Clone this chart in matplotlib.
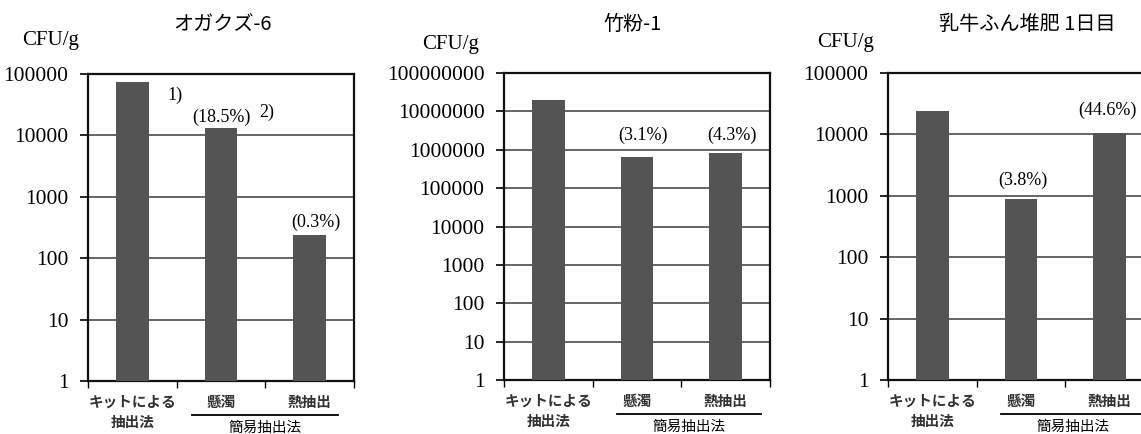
import matplotlib
matplotlib.use('Agg')
import matplotlib.pyplot as plt
from matplotlib.ticker import FuncFormatter, NullLocator, FixedLocator, LogLocator

# data
methods = ['キットによる\n抽出法', '懸濁', '熱抽出']
group_label = '簡易抽出法'
titles = ['オガクズ-6', '竹粉-1', '乳牛ふん堆肥 1日目']
unit = 'CFU/g'
counts = [
    [73000, 13300, 240],
    [19600000, 630000, 830000],
    [24000, 880, 10600],
]
ymax = [1e5, 1e8, 1e5]
pct_labels = [
    ['(18.5%)', '(0.3%)'],
    ['(3.1%)', '(4.3%)'],
    ['(3.8%)', '(44.6%)'],
]
note_labels = ['1)', '2)']

W, H = 1141, 434
fig = plt.figure(figsize=(W / 100, H / 100), dpi=100)

serif = ['Liberation Serif', 'Noto Sans CJK JP']
gothic = ['Noto Sans CJK JP', 'DejaVu Sans']

# layout (pixels)
ax_left = [88, 504, 888]
ax_top = [74, 73, 73]
ax_w, ax_h = 266, 307
title_xy = [(223, 25), (633, 25), (1027, 25)]
unit_xy = [(22, 40), (422, 45), (817, 43)]
# (x in data, y in axes fraction) for the percentage labels
pct_pos = [
    [(1.01, 0.860), (2.07, 0.518)],
    [(1.07, 0.798), (2.07, 0.798)],
    [(1.02, 0.651), (1.97, 0.879)],
]
note_pos = [(0.48, 0.932), (1.52, 0.876)]
underline = [(0.67, 2.32), (0.77, 2.40), (0.78, 2.40)]

bar_color = '#545454'

for i in range(3):
    x0 = ax_left[i] / W
    y0 = (H - ax_top[i] - ax_h) / H
    ax = fig.add_axes([x0, y0, ax_w / W, ax_h / H])
    ax.set_yscale('log')
    ax.set_ylim(1, ymax[i])
    ax.set_xlim(-0.5, 2.5)
    ax.set_axisbelow(True)
    ax.bar(range(3), counts[i], width=0.37, color=bar_color, zorder=3)

    ax.yaxis.set_major_locator(LogLocator(base=10, numticks=20))
    ax.yaxis.set_minor_locator(NullLocator())
    ax.yaxis.set_major_formatter(FuncFormatter(lambda v, p: f'{int(round(v))}'))
    ax.grid(axis='y', color='#3c3c3c', linewidth=1.1)
    ax.tick_params(axis='y', length=6, width=1.2, pad=8, labelsize=15.5)
    for t in ax.get_yticklabels():
        t.set_family(serif)

    ax.set_xticks(range(3))
    ax.set_xticklabels(methods, family=gothic, fontweight='bold', fontsize=10.5,
                       linespacing=1.35, color='#333333')
    ax.xaxis.set_minor_locator(FixedLocator([-0.5, 0.5, 1.5, 2.5]))
    ax.tick_params(axis='x', which='major', length=0, pad=9)
    ax.tick_params(axis='x', which='minor', length=5, width=1.0)

    for s in ax.spines.values():
        s.set_linewidth(1.6)
        s.set_color('#111111')

    for (px, py), lab in zip(pct_pos[i], pct_labels[i]):
        ax.text(px, py, lab, transform=ax.get_xaxis_transform(), ha='center', va='center',
                family=serif, fontsize=13, zorder=5)
    if i == 0:
        for (px, py), lab in zip(note_pos, note_labels):
            ax.text(px, py, lab, transform=ax.get_xaxis_transform(), ha='center', va='center',
                    family=serif, fontsize=13, zorder=5)

    # group underline + label
    xa, xb = underline[i]
    ax.plot([xa, xb], [-0.11, -0.11], transform=ax.get_xaxis_transform(),
            color='black', linewidth=1.3, clip_on=False)
    ax.text((xa + xb) / 2, -0.152, group_label, transform=ax.get_xaxis_transform(),
            ha='center', va='center', family=gothic, fontsize=10.5)

    tx, ty = title_xy[i]
    fig.text(tx / W, 1 - ty / H, titles[i], ha='center', va='center',
             family=gothic, fontsize=14.5)
    ux, uy = unit_xy[i]
    fig.text(ux / W, 1 - uy / H, unit, ha='left', va='center', family=serif, fontsize=15)

fig.savefig('out.png', dpi=100)
